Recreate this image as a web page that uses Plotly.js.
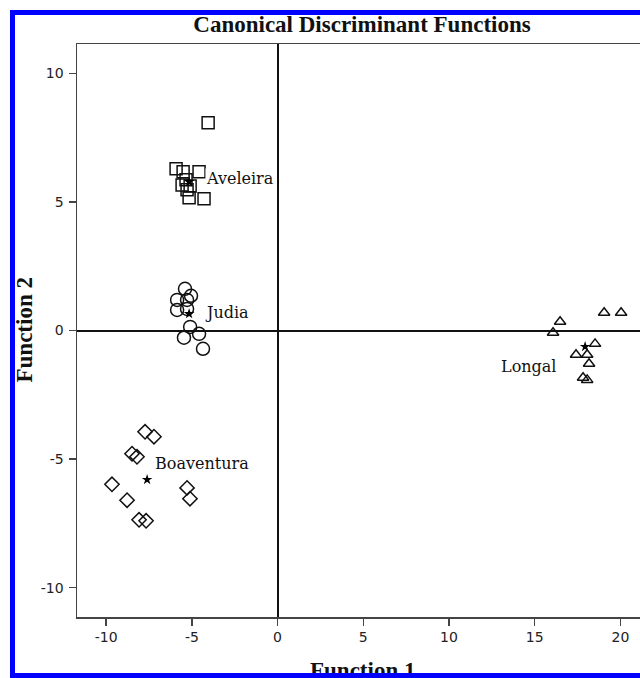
<!DOCTYPE html>
<html>
<head>
<meta charset="utf-8">
<script src="https://cdn.plot.ly/plotly-3.0.1.min.js"></script>
<style>
  html, body { margin: 0; padding: 0; width: 640px; height: 678px; overflow: hidden; background: #fff; }
  #chart { position: absolute; left: 0; top: 0; width: 700px; height: 678px; }
  #frame { position: absolute; left: 10px; top: 10px; width: 1000px; height: 668px;
           border: 5px solid #0000ff; box-sizing: border-box; pointer-events: none; z-index: 10; }
</style>
</head>
<body>
<div id="chart"></div>
<div id="frame"></div>
<script>
// Group names
const groups = ["Aveleira", "Judia", "Boaventura", "Longal"];

// Discriminant scores (Function 1, Function 2) per group
const aveleiraF1 = [-4.05, -5.92, -5.51, -4.58, -5.57, -5.10, -5.34, -5.16, -4.29, -5.28];
const aveleiraF2 = [ 8.08,  6.29,  6.17,  6.17,  5.66,  5.62,  5.86,  5.16,  5.12,  5.47];

const judiaF1 = [-5.40, -5.05, -5.86, -5.28, -5.86, -5.28, -5.10, -5.46, -4.58, -4.35];
const judiaF2 = [ 1.62,  1.35,  1.19,  1.19,  0.80,  0.84,  0.14, -0.28, -0.13, -0.71];

const boaventuraF1 = [-7.73, -7.21, -8.49, -8.20, -9.66, -8.78, -8.08, -7.67, -5.28, -5.11];
const boaventuraF2 = [-3.94, -4.13, -4.79, -4.91, -5.98, -6.60, -7.36, -7.40, -6.12, -6.54];

const longalF1 = [19.05, 20.04, 16.48, 16.07, 18.52, 17.41, 18.06, 18.17, 17.82, 18.06];
const longalF2 = [ 0.69,  0.69,  0.34, -0.09, -0.52, -0.94, -0.94, -1.29, -1.84, -1.92];

// Group centroids
const centroidF1 = [-5.16, -5.16, -7.61, 17.94];
const centroidF2 = [ 5.78,  0.65, -5.80, -0.63];

// Axis ticks
const xTickVals = [-10, -5, 0, 5, 10, 15, 20];
const xTickText = ["-10", "-5", "0", "5", "10", "15", "20"];
const yTickVals = [-10, -5, 0, 5, 10];
const yTickText = ["-10", "-5", "0", "5", "10"];

const mk = (sym, size) => ({ symbol: sym, size: size, color: 'rgba(0,0,0,0)',
                             line: { color: '#111', width: 1.5 } });

const traces = [
  { x: aveleiraF1, y: aveleiraF2, name: groups[0], mode: 'markers', type: 'scatter', marker: mk('square', 12) },
  { x: judiaF1, y: judiaF2, name: groups[1], mode: 'markers', type: 'scatter', marker: mk('circle', 13) },
  { x: boaventuraF1, y: boaventuraF2, name: groups[2], mode: 'markers', type: 'scatter', marker: mk('diamond', 11) },
  { x: longalF1, y: longalF2, name: groups[3], mode: 'markers', type: 'scatter', marker: mk('triangle-up', 10) },
  { x: centroidF1, y: centroidF2, name: 'Group Centroid', mode: 'markers', type: 'scatter',
    marker: { symbol: 'star', size: 8, color: '#000', line: { width: 0 } } }
];

// label offsets (pixels) relative to each centroid
const labelStyle = [
  { xanchor: 'left',  xshift: 16,  yshift: 3 },
  { xanchor: 'left',  xshift: 15,  yshift: 1 },
  { xanchor: 'left',  xshift: 7,   yshift: 16 },
  { xanchor: 'right', xshift: -28, yshift: -20 }
];

const annotations = groups.map((g, i) => ({
  x: centroidF1[i], y: centroidF2[i], xref: 'x', yref: 'y', text: g, showarrow: false,
  xanchor: labelStyle[i].xanchor, yanchor: 'middle',
  xshift: labelStyle[i].xshift, yshift: labelStyle[i].yshift,
  font: { family: 'DejaVu Serif', size: 16, color: '#111' },
  bgcolor: i === 0 ? '#fff' : 'rgba(0,0,0,0)', borderpad: 0
}));

annotations.push({
  text: 'Function 2', xref: 'paper', yref: 'paper', x: 0, y: 0.5, xshift: -53,
  textangle: -90, showarrow: false, xanchor: 'center', yanchor: 'middle',
  font: { family: 'Liberation Serif', size: 23, color: '#111', weight: 'bold' }
});
annotations.push({
  text: 'Function 1', xref: 'paper', yref: 'paper', x: 0.5, y: 0, yshift: -53,
  showarrow: false, xanchor: 'center', yanchor: 'middle',
  font: { family: 'Liberation Serif', size: 23, color: '#111', weight: 'bold' }
});

const axisCommon = {
  showgrid: false, zeroline: true, zerolinecolor: '#111', zerolinewidth: 2,
  showline: true, linecolor: '#444', linewidth: 1.5, mirror: true,
  ticks: 'outside', ticklen: 7, tickwidth: 1.5, tickcolor: '#444',
  tickfont: { family: 'DejaVu Sans', size: 14, color: '#222' }
};

const layout = {
  width: 700, height: 678,
  margin: { l: 77, r: 53, t: 44, b: 61 },
  paper_bgcolor: '#fff', plot_bgcolor: '#fff',
  showlegend: false,
  title: { text: 'Canonical Discriminant Functions', xref: 'paper', x: 0.5, xanchor: 'center',
           yref: 'container', y: 1 - 24 / 678, yanchor: 'middle',
           font: { family: 'Liberation Serif', size: 23, color: '#111', weight: 'bold' } },
  xaxis: Object.assign({}, axisCommon, { range: [-11.7, 21.55], tickmode: 'array',
                                         tickvals: xTickVals, ticktext: xTickText }),
  yaxis: Object.assign({}, axisCommon, { range: [-11.14, 11.14], tickmode: 'array',
                                         tickvals: yTickVals, ticktext: yTickText, ticklabelstandoff: 2 }),
  annotations: annotations
};

Plotly.newPlot('chart', traces, layout, { displayModeBar: false, staticPlot: true });
</script>
</body>
</html>
